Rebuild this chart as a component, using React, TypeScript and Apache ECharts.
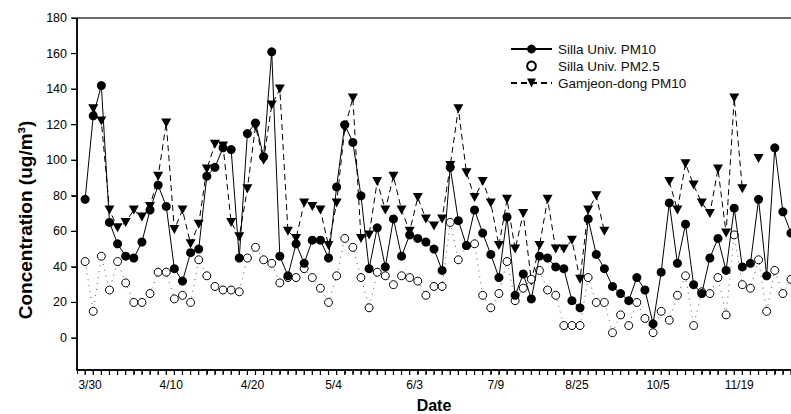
import React, { useEffect, useRef } from 'react';
import * as echarts from 'echarts';

// Date tick labels (one label every 10 sampling points, starting at the first)
const dateLabels = ['3/30', '4/10', '4/20', '5/4', '6/3', '7/9', '8/25', '10/5', '11/19'];
const labelEvery = 10;

const yTickValues = [0, 20, 40, 60, 80, 100, 120, 140, 160, 180];
const yMin = -18;
const yMax = 180;

const sillaPM10 = [
  78, 125, 142, 65, 53, 46, 45, 54, 72, 86,
  74, 39, 32, 48, 50, 91, 96, 107, 106, 45,
  115, 121, 102, 161, 46, 35, 53, 42, 55, 55,
  45, 85, 120, 110, 80, 39, 62, 40, 67, 46,
  58, 56, 54, 50, 38, 96, 66, 52, 72, 59,
  47, 34, 68, 24, 36, 22, 46, 45, 40, 39,
  21, 17, 67, 47, 39, 29, 25, 21, 34, 27,
  8, 37, 76, 42, 64, 30, 25, 45, 56, 38,
  73, 40, 42, 78, 35, 107, 71, 59,
];

const sillaPM25 = [
  43, 15, 46, 27, 43, 31, 20, 20, 25, 37,
  37, 22, 24, 20, 44, 35, 29, 27, 27, 26,
  45, 51, 44, 42, 31, 34, 34, 39, 34, 28,
  20, 35, 56, 51, 34, 17, 37, 35, 30, 35,
  34, 32, 24, 29, 29, 65, 44, 52, 53, 24,
  17, 25, 43, 21, 28, 33, 38, 27, 24, 7,
  7, 7, 34, 20, 20, 3, 13, 7, 20, 11,
  3, 15, 10, 24, 35, 7, 26, 25, 34, 13,
  58, 30, 28, 44, 15, 38, 25, 33,
];

const gamjeonPM10 = [
  null, 129, 122, 72, 62, 65, 72, 68, 74, 91,
  121, 61, 72, 53, 64, 95, 109, 108, 65, 57,
  84, 119, 100, 131, 140, 60, 56, 76, 74, 72,
  52, 76, 118, 135, 56, 58, 88, 72, 91, 72,
  60, 79, 67, 63, 67, 97, 129, 93, 79, 88,
  76, 52, 78, 50, 70, 32, 52, 78, 50, 50,
  55, 33, 72, 80, 60, null, null, null, null, null,
  null, null, 88, 72, 98, 86, 76, 70, 95, 59,
  135, 84, null, 101, null, null, null, null,
];

const FONT = "'Liberation Sans', Arial, sans-serif";

export default function App() {
  const ref = useRef<HTMLDivElement>(null);

  useEffect(() => {
    const el = ref.current;
    if (!el) return;
    const chart = echarts.init(el, null, { renderer: 'svg' });

    // category slots: one empty slot at the axis origin, then one per sample
    const n = sillaPM10.length;
    const slots = Array.from({ length: n + 1 }, (_, k) => String(k - 1));
    const pairs = (arr: (number | null)[]) => arr.map((v, i) => [i + 1, v]);
    const slotLabel = (k: number) => {
      const i = k - 1;
      if (i < 0 || i % labelEvery !== 0) return '';
      return dateLabels[i / labelEvery] ?? '';
    };

    chart.setOption({
      animation: false,
      backgroundColor: '#fff',
      textStyle: { fontFamily: FONT, color: '#000' },
      grid: {
        left: 77,
        top: 18,
        right: 0,
        bottom: 44,
        containLabel: false,
        outerBoundsMode: 'none',
      },
      legend: {
        orient: 'vertical',
        left: 505,
        top: 37,
        itemWidth: 41,
        itemHeight: 11,
        itemGap: 3,
        selectedMode: false,
        textStyle: { fontSize: 13.5, color: '#111', fontFamily: FONT, padding: [0, 0, 0, 1] },
        data: [
          { name: 'Silla Univ. PM10' },
          { name: 'Silla Univ. PM2.5', lineStyle: { opacity: 0 } },
          { name: 'Gamjeon-dong PM10' },
        ],
      },
      xAxis: {
        type: 'category',
        data: slots,
        boundaryGap: false,
        name: 'Date',
        nameLocation: 'middle',
        nameGap: 27,
        nameTextStyle: { fontSize: 16, fontWeight: 'bold', color: '#000', fontFamily: FONT },
        splitLine: { show: false },
        axisLine: { show: true, onZero: false, lineStyle: { color: '#000', width: 1.5 } },
        axisTick: { show: true, interval: 0, length: 4, lineStyle: { color: '#000', width: 1 } },
        axisLabel: {
          interval: 0,
          fontSize: 12,
          color: '#000',
          margin: 9,
          padding: [0, 0, 0, 10],
          formatter: (_v: string, k: number) => slotLabel(k),
        },
      },
      yAxis: {
        type: 'value',
        min: yMin,
        max: yMax,
        name: 'Concentration (ug/m³)',
        nameLocation: 'middle',
        nameGap: 40,
        nameTextStyle: {
          fontSize: 19,
          fontWeight: 'bold',
          color: '#000',
          fontFamily: FONT,
          padding: [0, 52, 0, 0],
        },
        splitLine: { show: false },
        axisLine: { show: true, onZero: false, lineStyle: { color: '#000', width: 1.5 } },
        axisTick: { show: true, length: 5, customValues: yTickValues, lineStyle: { color: '#000' } },
        axisLabel: { fontSize: 12.5, color: '#000', margin: 10, customValues: yTickValues },
      },
      series: [
        {
          name: 'Gamjeon-dong PM10',
          type: 'line',
          data: pairs(gamjeonPM10),
          z: 2,
          symbol: 'path://M0,0L10,0L5,9Z',
          symbolSize: [10, 9],
          connectNulls: false,
          clip: false,
          itemStyle: { color: '#000' },
          lineStyle: { color: '#000', width: 1, type: [6, 4] },
        },
        {
          name: 'Silla Univ. PM2.5',
          type: 'line',
          data: pairs(sillaPM25),
          z: 3,
          symbol: 'circle',
          symbolSize: 8,
          clip: false,
          itemStyle: { color: '#fff', borderColor: '#000', borderWidth: 1 },
          lineStyle: { color: '#555', width: 1, type: [1, 5] },
        },
        {
          name: 'Silla Univ. PM10',
          type: 'line',
          data: pairs(sillaPM10),
          z: 4,
          symbol: 'circle',
          symbolSize: 9,
          clip: false,
          itemStyle: { color: '#000' },
          lineStyle: { color: '#000', width: 1 },
          // plot frame drawn through the axes (bottom, top, left)
          markLine: {
            silent: true,
            symbol: ['none', 'none'],
            label: { show: false },
            lineStyle: { type: 'solid', color: '#000', width: 1.5 },
            data: [
              { yAxis: yMin },
              { yAxis: yMax, lineStyle: { color: '#3a3a3a', type: 'solid', width: 1.5 } },
              { xAxis: 0 },
            ],
          },
        },
      ],
    });

    // Tick marks, placed through the chart's own scales
    const toPx = (k: number, v: number) =>
      chart.convertToPixel({ xAxisIndex: 0, yAxisIndex: 0 }, [k, v]) as number[] | null;
    const origin = toPx(0, yMin);
    if (origin && isFinite(origin[0]) && isFinite(origin[1])) {
      const [x0, yBot] = origin;
      const bar = (x: number, y: number, width: number, height: number) => ({
        type: 'rect',
        silent: true,
        z: 100,
        zlevel: 1,
        shape: { x, y, width, height },
        style: { fill: '#000' },
      });
      const elements: any[] = [];
      for (let k = 1; k <= n; k++) {
        const p = toPx(k, yMin);
        if (p) elements.push(bar(p[0] - 0.6, yBot + 1, 1.2, 4));
      }
      yTickValues.forEach((v) => {
        const p = toPx(0, v);
        if (p) elements.push(bar(x0 - 6, p[1] - 0.6, 5, 1.2));
      });
      chart.setOption({ graphic: { elements } });
    }

    return () => chart.dispose();
  }, []);

  return (
    <div
      ref={ref}
      style={{ position: 'fixed', left: 0, top: 0, width: 791, height: 414, background: '#fff' }}
    />
  );
}
